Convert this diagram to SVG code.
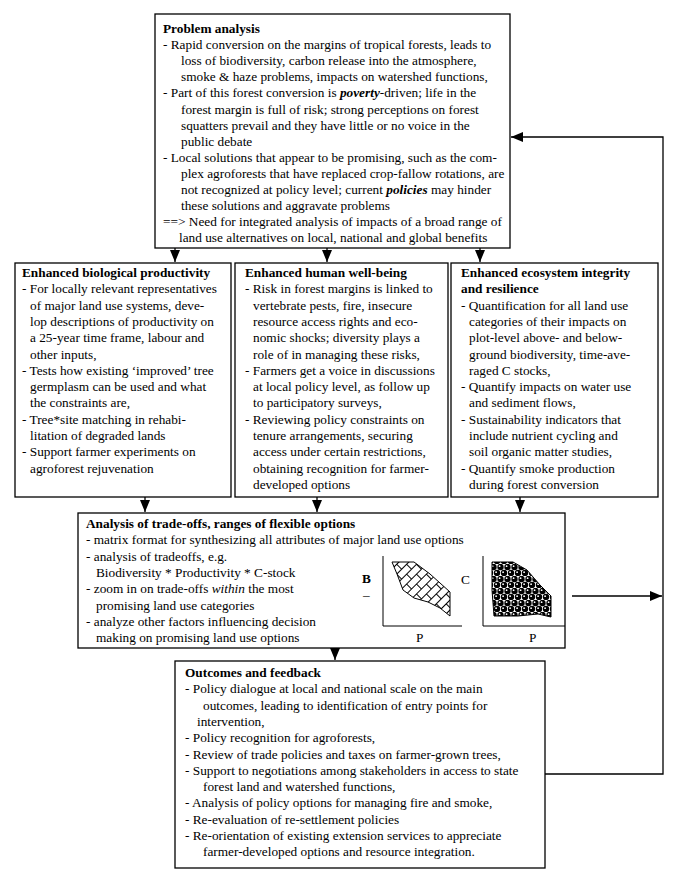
<svg xmlns="http://www.w3.org/2000/svg" width="675" height="888" viewBox="0 0 675 888">
<style>
.box{fill:#fff;stroke:#000;stroke-width:1.3}
text{font-family:"Liberation Serif","Times New Roman",serif;font-size:13.3px;fill:#000}
.h{font-weight:bold}
.c{fill:none;stroke:#000;stroke-width:1.3}
.ax{fill:none;stroke:#000;stroke-width:1}
</style>
<defs>
<marker id="ah" markerUnits="userSpaceOnUse" markerWidth="12" markerHeight="10" refX="12" refY="5" orient="auto">
<path d="M0,0 L12,5 L0,10 z" fill="#000"/>
</marker>
<pattern id="brick" width="14" height="14" patternUnits="userSpaceOnUse" patternTransform="rotate(-45)">
<rect width="14" height="14" fill="#fff"/>
<path d="M0,0.5 H14 M0,7.5 H14 M0.5,0.5 V7.5 M7.5,7.5 V14" stroke="#000" stroke-width="1" fill="none"/>
</pattern>
<pattern id="dots" width="7" height="12" patternUnits="userSpaceOnUse">
<rect width="7" height="12" fill="#fff"/>
<circle cx="3.5" cy="3" r="3.2" fill="#000"/>
<circle cx="0" cy="9" r="3.2" fill="#000"/>
<circle cx="7" cy="9" r="3.2" fill="#000"/>
<circle cx="2.6" cy="2.2" r="0.9" fill="#fff"/>
<circle cx="6.1" cy="8.2" r="0.9" fill="#fff"/>
</pattern>
</defs>

<g id="connectors">
<line class="c" x1="175" y1="248" x2="175" y2="262" marker-end="url(#ah)"/>
<line class="c" x1="327" y1="248" x2="327" y2="262" marker-end="url(#ah)"/>
<line class="c" x1="480" y1="248" x2="480" y2="262" marker-end="url(#ah)"/>
<line class="c" x1="145" y1="497" x2="145" y2="512" marker-end="url(#ah)"/>
<line class="c" x1="317" y1="497" x2="317" y2="512" marker-end="url(#ah)"/>
<line class="c" x1="520" y1="497" x2="520" y2="512" marker-end="url(#ah)"/>
<line class="c" x1="335" y1="648" x2="335" y2="660" marker-end="url(#ah)"/>
<line class="c" x1="572" y1="596" x2="662" y2="596" marker-end="url(#ah)"/>
<path class="c" d="M545,774 H663 V137 H511" marker-end="url(#ah)"/>
</g>

<g id="problem-analysis">
<rect class="box" x="155" y="14" width="355" height="234"/>
<text x="163" y="33" class="h">Problem analysis</text>
<text x="163" y="49.1">- Rapid conversion on the margins of tropical forests, leads to</text>
<text x="181" y="65.2">loss of biodiversity, carbon release into the atmosphere,</text>
<text x="181" y="81.3">smoke &amp; haze problems, impacts on watershed functions,</text>
<text x="163" y="97.4">- Part of this forest conversion is <tspan font-weight="bold" font-style="italic">poverty</tspan>-driven; life in the</text>
<text x="181" y="113.5">forest margin is full of risk; strong perceptions on forest</text>
<text x="181" y="129.6">squatters prevail and they have little or no voice in the</text>
<text x="181" y="145.7">public debate</text>
<text x="163" y="161.8">- Local solutions that appear to be promising, such as the com-</text>
<text x="181" y="177.9">plex agroforests that have replaced crop-fallow rotations, are</text>
<text x="181" y="194">not recognized at policy level; current <tspan font-weight="bold" font-style="italic">policies</tspan> may hinder</text>
<text x="181" y="210.1">these solutions and aggravate problems</text>
<text x="163" y="226.2">==&gt; Need for integrated analysis of impacts of a broad range of</text>
<text x="179" y="242.3">land use alternatives on local, national and global benefits</text>
</g>

<g id="biological-productivity">
<rect class="box" x="15" y="263" width="216" height="234"/>
<text x="22" y="277" class="h">Enhanced biological productivity</text>
<text x="22" y="293.3">- For locally relevant representatives</text>
<text x="30" y="309.6">of major land use systems, deve-</text>
<text x="30" y="325.9">lop descriptions of productivity on</text>
<text x="30" y="342.2">a 25-year time frame, labour and</text>
<text x="30" y="358.5">other inputs,</text>
<text x="22" y="374.8">- Tests how existing ‘improved’ tree</text>
<text x="30" y="391.1">germplasm can be used and what</text>
<text x="30" y="407.4">the constraints are,</text>
<text x="22" y="423.7">- Tree*site matching in rehabi-</text>
<text x="30" y="440">litation of degraded lands</text>
<text x="22" y="456.3">- Support farmer experiments on</text>
<text x="30" y="472.6">agroforest rejuvenation</text>
</g>

<g id="human-well-being">
<rect class="box" x="235" y="263" width="213" height="234"/>
<text x="245" y="277" class="h">Enhanced human well-being</text>
<text x="245" y="293.3">- Risk in forest margins is linked to</text>
<text x="253" y="309.6">vertebrate pests, fire, insecure</text>
<text x="253" y="325.9">resource access rights and eco-</text>
<text x="253" y="342.2">nomic shocks; diversity plays a</text>
<text x="253" y="358.5">role of in managing these risks,</text>
<text x="245" y="374.8">- Farmers get a voice in discussions</text>
<text x="253" y="391.1">at local policy level, as follow up</text>
<text x="253" y="407.4">to participatory surveys,</text>
<text x="245" y="423.7">- Reviewing policy constraints on</text>
<text x="253" y="440">tenure arrangements, securing</text>
<text x="253" y="456.3">access under certain restrictions,</text>
<text x="253" y="472.6">obtaining recognition for farmer-</text>
<text x="253" y="488.9">developed options</text>
</g>

<g id="ecosystem-integrity">
<rect class="box" x="451" y="263" width="207" height="234"/>
<text x="461" y="277" class="h">Enhanced ecosystem integrity</text>
<text x="461" y="293.3" class="h">and resilience</text>
<text x="461" y="309.6">- Quantification for all land use</text>
<text x="469" y="325.9">categories of their impacts on</text>
<text x="469" y="342.2">plot-level above- and below-</text>
<text x="469" y="358.5">ground biodiversity, time-ave-</text>
<text x="469" y="374.8">raged C stocks,</text>
<text x="461" y="391.1">- Quantify impacts on water use</text>
<text x="469" y="407.4">and sediment flows,</text>
<text x="461" y="423.7">- Sustainability indicators that</text>
<text x="469" y="440">include nutrient cycling and</text>
<text x="469" y="456.3">soil organic matter studies,</text>
<text x="461" y="472.6">- Quantify smoke production</text>
<text x="469" y="488.9">during forest conversion</text>
</g>

<g id="trade-offs">
<rect class="box" x="78" y="513" width="487" height="135"/>
<text x="86" y="528" class="h">Analysis of trade-offs, ranges of flexible options</text>
<text x="86" y="544.3">- matrix format for synthesizing all attributes of major land use options</text>
<text x="86" y="560.6">- analysis of tradeoffs, e.g.</text>
<text x="96" y="576.9">Biodiversity * Productivity * C-stock</text>
<text x="86" y="593.2">- zoom in on trade-offs <tspan font-style="italic">within</tspan> the most</text>
<text x="96" y="609.5">promising land use categories</text>
<text x="86" y="625.8">- analyze other factors influencing decision</text>
<text x="96" y="642.1">making on promising land use options</text>
<text x="362" y="583" class="h">B</text>
<text x="363" y="599" font-size="10">–</text>
<path class="ax" d="M383,556 V626 H462"/>
<polygon points="392,562 414,562 430,574 450,592 450,616 440,608 428,602 414,598 403,590 397,574" fill="url(#brick)" stroke="#000" stroke-width="1"/>
<text x="416" y="642">P</text>
<text x="461" y="584">C</text>
<path class="ax" d="M483,556 V626 H565"/>
<polygon points="492,562 513,562 527,570 540,585 551,596 551,617 538,614 518,616 494,616 492,590" fill="url(#dots)" stroke="#000" stroke-width="1"/>
<text x="529" y="642">P</text>
</g>

<g id="outcomes">
<rect class="box" x="175" y="661" width="370" height="207"/>
<text x="185" y="677" class="h">Outcomes and feedback</text>
<text x="185" y="693.3">- Policy dialogue at local and national scale on the main</text>
<text x="203" y="709.6">outcomes, leading to identification of entry points for</text>
<text x="197" y="725.9">intervention,</text>
<text x="185" y="742.2">- Policy recognition for agroforests,</text>
<text x="185" y="758.5">- Review of trade policies and taxes on farmer-grown trees,</text>
<text x="185" y="774.8">- Support to negotiations among stakeholders in access to state</text>
<text x="203" y="791.1">forest land and watershed functions,</text>
<text x="185" y="807.4">- Analysis of policy options for managing fire and smoke,</text>
<text x="185" y="823.7">- Re-evaluation of re-settlement policies</text>
<text x="185" y="840">- Re-orientation of existing extension services to appreciate</text>
<text x="203" y="856.3">farmer-developed options and resource integration.</text>
</g>
</svg>
